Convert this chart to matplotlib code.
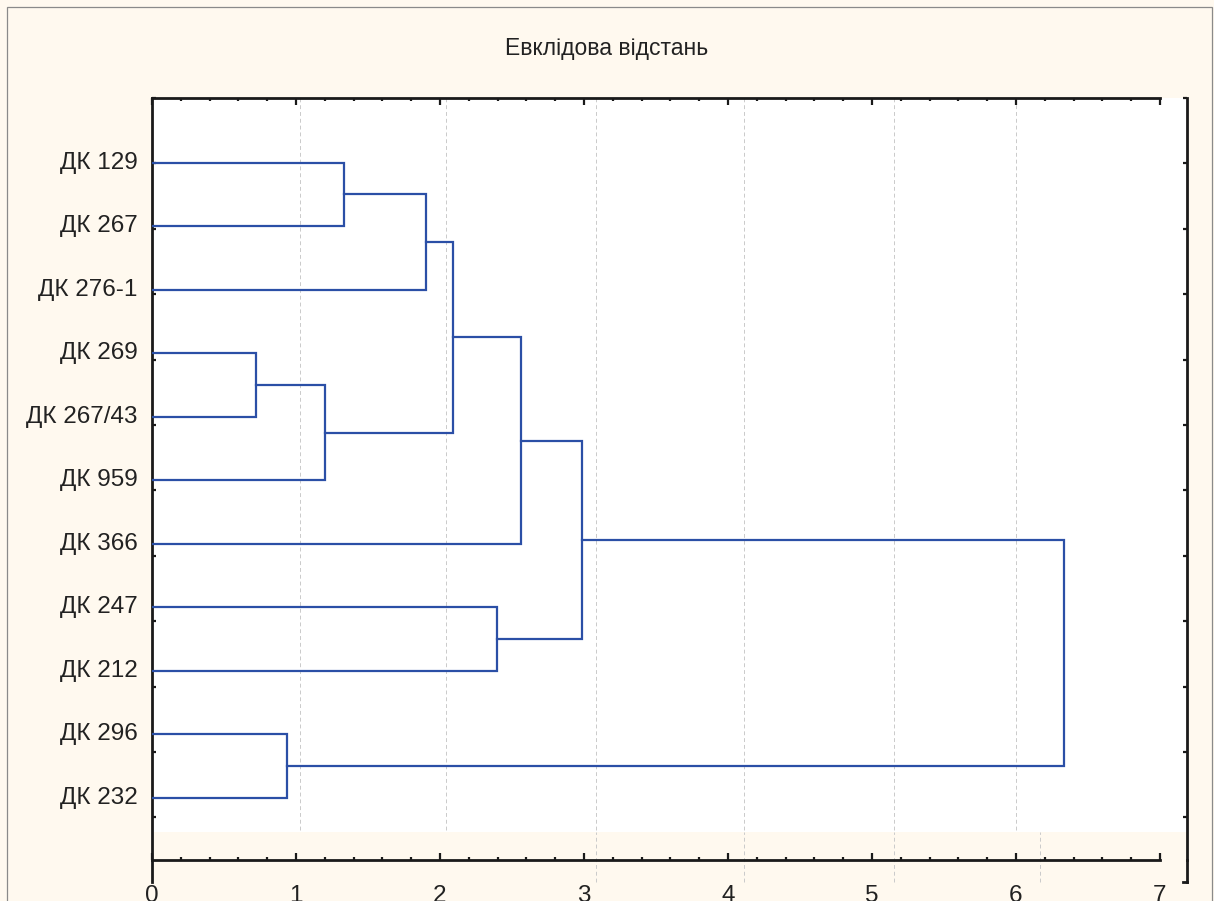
"""
Dendrogram (Euclidean distance) for 11 samples, Statistica-style layout.
"""

import numpy as np
import matplotlib
matplotlib.use("Agg")
import matplotlib.pyplot as plt
from matplotlib.patches import Rectangle
from matplotlib.lines import Line2D
from matplotlib.ticker import FixedLocator

plt.rcParams["font.family"] = ["Liberation Sans", "DejaVu Sans"]

# leaves, top to bottom
leaves = ["ДК 129", "ДК 267", "ДК 276-1", "ДК 269", "ДК 267/43", "ДК 959",
          "ДК 366", "ДК 247", "ДК 212", "ДК 296", "ДК 232"]

# merges: (left node, right node, distance); new nodes numbered from len(leaves)
merge_left = [3, 9, 11, 0, 14, 15, 7, 16, 18, 19]
merge_right = [4, 10, 5, 1, 2, 13, 8, 6, 17, 12]
merge_dist = [0.72, 0.94, 1.20, 1.335, 1.90, 2.09, 2.395, 2.565, 2.985, 6.335]

title = "Евклідова відстань"
x_ticks = [0, 1, 2, 3, 4, 5, 6, 7]

# odd grid lines as Statistica left them
grid_upper = [1.03, 2.04, 3.08, 4.11, 5.15, 6.00]
grid_lower = [3.08, 4.11, 5.15, 6.17]

BG = "#fff9ef"
LINE = "#2b4fa6"
INK = "#222222"

W, H = 1214, 901
fig = plt.figure(figsize=(W / 100, H / 100), dpi=100, facecolor=BG)

# outer frame
fig.add_artist(Rectangle((7 / W, -0.05), (1212 - 7) / W, (H - 7) / H + 0.05,
                         transform=fig.transFigure, fill=False,
                         edgecolor="#8a8a8a", lw=0.9))

fig.text(0.5, 1 - 48 / H, title, ha="center", va="center",
         fontsize=16.5, color=INK)

# main axes: x 152..1187 px, y 98..860 px
x0, x1, ytop, ybot = 152, 1187, 98, 860
ax = fig.add_axes([x0 / W, 1 - ybot / H, (x1 - x0) / W, (ybot - ytop) / H])
ax.set_facecolor("none")
px_per_unit = 144
ax.set_xlim(0, (x1 - x0) / px_per_unit)
leaf0, leaf_step = 162.7, 63.5
ax.set_ylim((ybot - leaf0) / leaf_step, (ytop - leaf0) / leaf_step)

# white plotting area (stops short of the bottom axis)
strip = (ybot - 832) / (ybot - ytop)
ax.add_patch(Rectangle((0, strip), 1, 1 - strip, transform=ax.transAxes,
                       facecolor="white", edgecolor="none", zorder=0))

# grid lines
gtr = ax.get_xaxis_transform()
ax.vlines(grid_upper, (ybot - 830) / (ybot - ytop), 1, transform=gtr,
          colors="#cacaca", lw=0.7, linestyles=(0, (4, 3)), zorder=1)
ax.vlines(grid_lower, -(882 - ybot) / (ybot - ytop), strip, transform=gtr,
          colors="#cacaca", lw=0.7, linestyles=(0, (4, 3)), zorder=1,
          clip_on=False)

# dendrogram
pos = {i: float(i) for i in range(len(leaves))}
hgt = {i: 0.0 for i in range(len(leaves))}
for k, (a, b, d) in enumerate(zip(merge_left, merge_right, merge_dist)):
    node = len(leaves) + k
    ax.plot([hgt[a], d, d, hgt[b]], [pos[a], pos[a], pos[b], pos[b]],
            color=LINE, lw=1.6, solid_joinstyle="miter", zorder=3)
    pos[node] = (pos[a] + pos[b]) / 2
    hgt[node] = d

# leaf labels
for i, name in enumerate(leaves):
    ax.text(-0.1, i, name, ha="right", va="center", fontsize=17.5,
            color=INK, clip_on=False)

# spines
for s in ["left", "right", "top", "bottom"]:
    ax.spines[s].set_color("#1a1a1a")
    ax.spines[s].set_linewidth(2.0)
ax.spines["top"].set_bounds(0, 7)
ax.spines["bottom"].set_bounds(0, 7)
ext = (882 - ybot) / (ybot - ytop)
for xa in (0, 1):
    ax.add_line(Line2D([xa, xa], [0, -ext], transform=ax.transAxes,
                       color="#1a1a1a", lw=2.0, clip_on=False))
ax.add_line(Line2D([1, 1 - 4 / (x1 - x0)], [-ext, -ext], transform=ax.transAxes,
                   color="#1a1a1a", lw=2.0, clip_on=False))

# x ticks: top and bottom, inward
ax.xaxis.set_major_locator(FixedLocator(x_ticks))
ax.xaxis.set_minor_locator(FixedLocator(np.arange(0, 7.01, 0.2)))
ax.set_xticklabels([str(t) for t in x_ticks])
ax.tick_params(axis="x", which="both", direction="in", top=True, bottom=True,
               width=1.6, color="#1a1a1a")
ax.tick_params(axis="x", which="major", length=5, pad=18, labelsize=17.5,
               labelcolor=INK)
ax.tick_params(axis="x", which="minor", length=2.5)

# y ticks: left and right, inward, no labels
yt = list(np.linspace(0.01, 10.31, 11)) + [(ytop - leaf0) / leaf_step]
ax.set_yticks(yt)
ax.set_yticklabels([])
ax.tick_params(axis="y", which="major", direction="in", left=True, right=True,
               length=3, width=1.6, color="#1a1a1a")

fig.savefig("out.png", dpi=100, facecolor=BG)
